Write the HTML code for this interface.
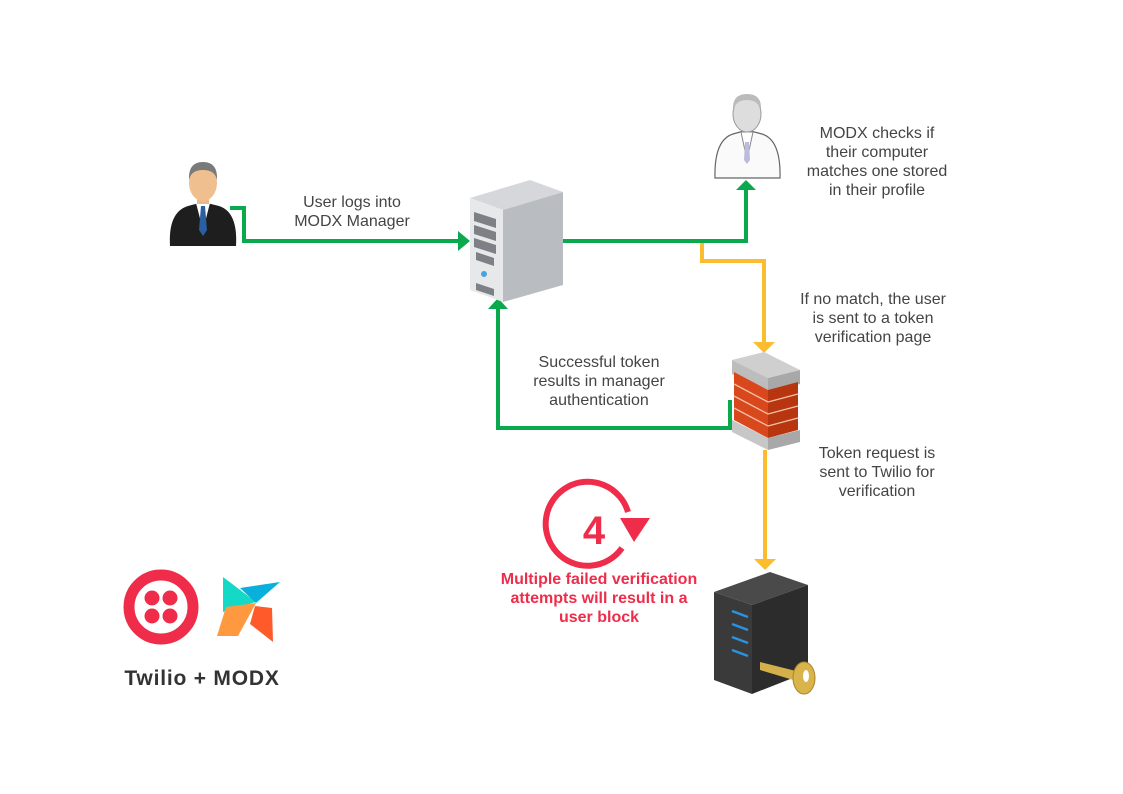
<!DOCTYPE html>
<html><head><meta charset="utf-8"><style>
html,body{margin:0;padding:0;background:#fff;}
svg{display:block;}
text{font-family:"Liberation Sans",sans-serif;}
</style></head><body>
<svg width="1123" height="794" viewBox="0 0 1123 794" xmlns="http://www.w3.org/2000/svg">
<rect width="1123" height="794" fill="#fff"/>
<g fill="none" stroke-width="4" stroke-linejoin="miter">
<polyline points="230,208 244,208 244,241 462,241" stroke="#0aa94d"/>
<polyline points="563,241 746,241 746,188" stroke="#0aa94d"/>
<polyline points="730,400 730,428 498,428 498,306" stroke="#0aa94d"/>
<polyline points="702,243 702,261 764,261 764,345" stroke="#fbbd2f"/>
<line x1="765" y1="450" x2="765" y2="563" stroke="#fbbd2f"/>
</g>
<polygon points="458,231 470,241 458,251" fill="#0aa94d"/>
<polygon points="736,190 746,180 756,190" fill="#0aa94d"/>
<polygon points="488,309 498,298 508,309" fill="#0aa94d"/>
<polygon points="753,342 764,353 775,342" fill="#fbbd2f"/>
<polygon points="754,559 765,570 776,559" fill="#fbbd2f"/>

<g>
<path d="M170,246 Q168,212 188,206 L203,202 L219,206 Q238,212 236,246 Z" fill="#1e1e1e"/>
<path d="M196,203 L203,230 L210,203 Z" fill="#fff"/>
<path d="M201,206 L205,206 L207,230 L203,236 L199,230 Z" fill="#2a5fa0"/>
<rect x="197" y="190" width="12" height="14" fill="#e8b88a"/>
<ellipse cx="203" cy="183" rx="14" ry="18" fill="#efbf8f"/>
<path d="M189,180 Q188,162 203,162 Q218,162 217,180 Q215,170 203,170 Q191,170 189,180Z" fill="#7a7a7a"/>
</g>
<g>
<path d="M715,178 Q714,140 733,134 L747,130 L762,134 Q781,140 780,178 Z" fill="#fafafa" stroke="#666" stroke-width="1.2"/>
<path d="M741,132 L747,160 L753,132 Z" fill="#fff" stroke="#888"/>
<path d="M745,142 L749,142 L750,160 L747,164 L744,160Z" fill="#bbd"/>
<ellipse cx="747" cy="114" rx="14" ry="18" fill="#ddd" stroke="#999"/>
<path d="M733,110 Q732,94 747,94 Q762,94 761,110 Q758,100 747,100 Q736,100 733,110Z" fill="#bbb"/>
</g>
<g>
<polygon points="470,198 530,180 563,192 503,210" fill="#d5d7da"/>
<polygon points="503,210 563,192 563,285 503,302" fill="#b9bcc0"/>
<polygon points="470,198 503,210 503,302 470,290" fill="#e6e8ea"/>
<polygon points="474,212 496,219 496,228 474,221" fill="#7d8185"/>
<polygon points="474,225 496,232 496,241 474,234" fill="#7d8185"/>
<polygon points="474,238 496,245 496,254 474,247" fill="#7d8185"/>
<polygon points="476,252 494,258 494,266 476,260" fill="#7d8185"/>
<circle cx="484" cy="274" r="3" fill="#4aa3e0"/>
<polygon points="476,283 494,289 494,296 476,290" fill="#7d8185"/>
</g>
<g>
<polygon points="732,360 764,352 800,370 768,378" fill="#cfcfcf"/>
<polygon points="732,360 768,378 768,392 732,374" fill="#bdbdbd"/>
<polygon points="768,378 800,370 800,384 768,392" fill="#a8a8a8"/>
<polygon points="734,372 768,390 768,438 734,420" fill="#d9471d"/>
<polygon points="768,390 798,382 798,430 768,438" fill="#b8360f"/>
<g stroke="#f5c0a8" stroke-width="1.3">
<line x1="734" y1="384" x2="768" y2="402"/><line x1="734" y1="396" x2="768" y2="414"/><line x1="734" y1="408" x2="768" y2="426"/>
<line x1="768" y1="402" x2="798" y2="394"/><line x1="768" y1="414" x2="798" y2="406"/><line x1="768" y1="426" x2="798" y2="418"/>
</g>
<polygon points="732,420 768,438 768,450 732,432" fill="#c7c7c7"/>
<polygon points="768,438 800,430 800,442 768,450" fill="#a8a8a8"/>
</g>
<g>
<polygon points="714,592 770,572 808,585 752,605" fill="#4a4a4a"/>
<polygon points="752,605 808,585 808,672 752,694" fill="#2c2c2c"/>
<polygon points="714,592 752,605 752,694 714,680" fill="#3a3a3a"/>
<g stroke="#2a93e0" stroke-width="2.5">
<line x1="732" y1="611" x2="748" y2="617"/><line x1="732" y1="624" x2="748" y2="630"/><line x1="732" y1="637" x2="748" y2="643"/><line x1="732" y1="650" x2="748" y2="656"/>
</g>
<polygon points="760,662 800,672 800,682 760,670" fill="#d4b04a"/>
<ellipse cx="804" cy="678" rx="11" ry="16" fill="#d9b44a" stroke="#a8862c"/>
<ellipse cx="806" cy="676" rx="3" ry="6" fill="#fff"/>
</g>
<g>
<path d="M628,512 A42,42 0 1 0 622,548" fill="none" stroke="#ef2d4a" stroke-width="6"/>
<polygon points="620,518 650,518 634,542" fill="#ef2d4a"/>
<text x="594" y="544" font-size="40" font-weight="bold" fill="#ef2d4a" text-anchor="middle">4</text>
</g>
<g>
<circle cx="161" cy="607" r="32" fill="none" stroke="#ef2d4a" stroke-width="11"/>
<circle cx="161" cy="607" r="26" fill="#fff"/>
<circle cx="152" cy="598" r="7.5" fill="#ef2d4a"/><circle cx="170" cy="598" r="7.5" fill="#ef2d4a"/>
<circle cx="152" cy="616" r="7.5" fill="#ef2d4a"/><circle cx="170" cy="616" r="7.5" fill="#ef2d4a"/>
</g>
<g>
<polygon points="223,577 256,602 223,612" fill="#14d9c6"/>
<polygon points="240,588 280,582 256,603" fill="#0ab0dc"/>
<polygon points="226,607 256,603 238,636 217,636" fill="#ff9940"/>
<polygon points="255,606 272,608 273,642 250,624" fill="#ff5a2a"/>
</g>
<text x="202" y="685" font-size="21" font-weight="bold" fill="#333" text-anchor="middle" letter-spacing="0.8">Twilio + MODX</text>

<g font-size="16" fill="#444" text-anchor="middle">
<text x="352" y="207">User logs into</text>
<text x="352" y="226">MODX Manager</text>
<text x="877" y="138">MODX checks if</text>
<text x="877" y="157">their computer</text>
<text x="877" y="176">matches one stored</text>
<text x="877" y="195">in their profile</text>
<text x="873" y="304">If no match, the user</text>
<text x="873" y="323">is sent to a token</text>
<text x="873" y="342">verification page</text>
<text x="599" y="367">Successful token</text>
<text x="599" y="386">results in manager</text>
<text x="599" y="405">authentication</text>
<text x="877" y="458">Token request is</text>
<text x="877" y="477">sent to Twilio for</text>
<text x="877" y="496">verification</text>
</g>
<g font-size="16" font-weight="bold" fill="#ef2d4a" text-anchor="middle">
<text x="599" y="584">Multiple failed verification</text>
<text x="599" y="603">attempts will result in a</text>
<text x="599" y="622">user block</text>
</g>
</svg>
</body></html>
